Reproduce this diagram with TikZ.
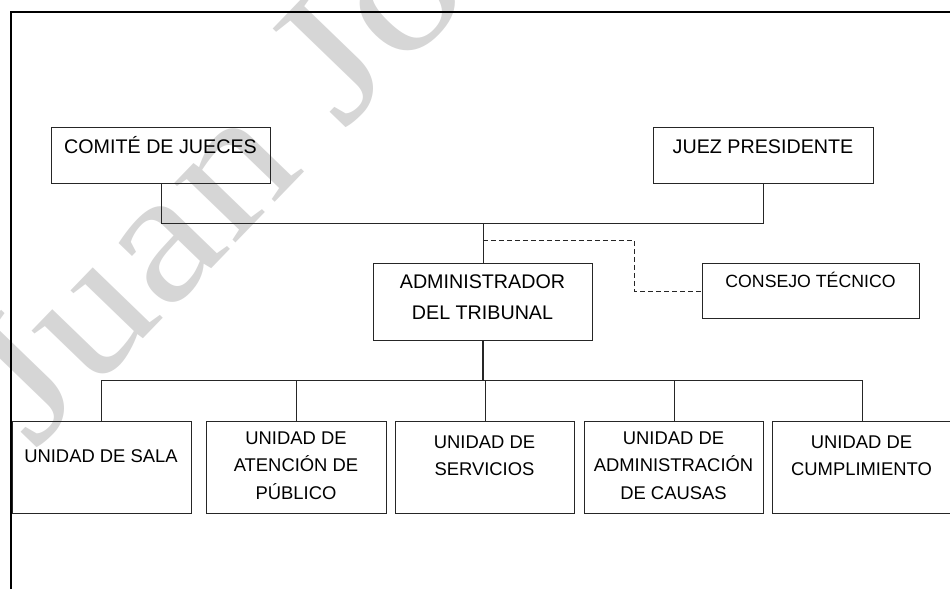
\documentclass[tikz,border=0pt]{standalone}
\usepackage{fontspec}
\setmainfont{Liberation Sans}
\newfontfamily\wmfont{Liberation Serif}
\usetikzlibrary{calc}
\begin{document}
\begin{tikzpicture}[x=1pt,y=-1pt,
  box/.style={draw=black!85, line width=0.8pt, inner sep=0pt, anchor=north west},
  link/.style={draw=black!85, line width=0.8pt},
  dashlink/.style={draw=black!85, line width=0.8pt, dash pattern=on 5pt off 3pt},
  frame/.style={draw=black, line width=1.4pt},
  lbl/.style={anchor=base, inner sep=0pt, font=\fontsize{18.4}{27}\selectfont},
  toplbl/.style={anchor=base, inner sep=0pt, font=\fontsize{19.7}{24}\selectfont},
  ctlbl/.style={anchor=base, inner sep=0pt, font=\fontsize{17.7}{24}\selectfont},
  wm/.style={rotate=46, anchor=base west, inner sep=0pt, text=black!16, font=\wmfont\fontsize{186}{186}\selectfont}]
\useasboundingbox (0,0) rectangle (950,589);
\clip (0,0) rectangle (950,589);
% watermark
\node[wm] (wmark) at (34,452) {\scalebox{1.15}[1]{Juan Jo}};
% frame
\coordinate (f0) at (11,589);
\coordinate (f1) at (11,12);
\coordinate (f2) at (951,12);
\draw[frame] (f0) -- (f1) -- (f2);
% boxes
\node[box, minimum width=219pt, minimum height=56pt] (cj) at (51,127) {};
\node[box, minimum width=220pt, minimum height=56pt] (jp) at (653,127) {};
\node[box, minimum width=219pt, minimum height=77pt] (adm) at (373,263) {};
\node[box, minimum width=217pt, minimum height=55pt] (ct) at (702,263) {};
\node[box, minimum width=179.5pt, minimum height=92pt] (u1) at (11.5,421) {};
\node[box, minimum width=180pt, minimum height=92pt] (u2) at (206,421) {};
\node[box, minimum width=179pt, minimum height=92pt] (u3) at (395,421) {};
\node[box, minimum width=179pt, minimum height=92pt] (u4) at (584,421) {};
\node[box, minimum width=179pt, minimum height=92pt] (u5) at (772,421) {};
% labels
\node[toplbl] (tcj) at (160.5,153) {COMITÉ DE JUECES};
\node[toplbl] (tjp) at (763,153) {JUEZ PRESIDENTE};
\node[toplbl] (tad1) at (482.5,288) {ADMINISTRADOR};
\node[toplbl] (tad2) at (482.5,319) {DEL TRIBUNAL};
\node[ctlbl] (tct) at (810.5,287) {CONSEJO TÉCNICO};
\node[lbl] (t1) at (101,462) {UNIDAD DE SALA};
\node[lbl] (t2a) at (296,444) {UNIDAD DE};
\node[lbl] (t2b) at (296,471.5) {ATENCIÓN DE};
\node[lbl] (t2c) at (296,499) {PÚBLICO};
\node[lbl] (t3a) at (484.5,448) {UNIDAD DE};
\node[lbl] (t3b) at (484.5,475.5) {SERVICIOS};
\node[lbl] (t4a) at (673.5,444) {UNIDAD DE};
\node[lbl] (t4b) at (673.5,471.5) {ADMINISTRACIÓN};
\node[lbl] (t4c) at (673.5,499) {DE CAUSAS};
\node[lbl] (t5a) at (861.5,448) {UNIDAD DE};
\node[lbl] (t5b) at (861.5,475.5) {CUMPLIMIENTO};
% top connectors
\draw[link] (cj.south) -- ++(0,40) coordinate (jl) -| (jp.south);
\draw[link] (adm.north) -- (adm.north |- jl);
\coordinate (d0) at ($(adm.north)+(0,-23)$);
\draw[dashlink] (d0) -| ($(ct.west)+(-68,0)$) -- (ct.west);
% bottom connectors
\draw[link, line width=1.3pt] (adm.south) -- ++(0,40) coordinate (b0);
\draw[link] (u1.north) -- (u1.north |- b0) -| (u5.north);
\draw[link] (u2.north) -- (u2.north |- b0);
\draw[link] (u3.north) -- (u3.north |- b0);
\draw[link] (u4.north) -- (u4.north |- b0);
\end{tikzpicture}
\end{document}
